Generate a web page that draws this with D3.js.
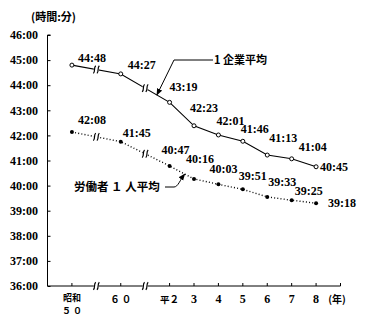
<!DOCTYPE html>
<html>
<head>
<meta charset="utf-8">
<script src="https://cdn.jsdelivr.net/npm/d3@7"></script>
<style>
  html, body { margin: 0; padding: 0; background: #fff; }
  svg { display: block; }
  .num { font-family: "Liberation Serif", "DejaVu Serif", serif; font-weight: bold; font-size: 12px; fill: #000; }
  .jp { font-family: "Noto Sans CJK JP", sans-serif; font-weight: bold; fill: #000; }
</style>
</head>
<body>
<svg id="chart" width="371" height="323"></svg>
<script>
// Years shown on the horizontal axis (昭和50, 60, then 平成2–8)
const years = ["昭和50", "60", "平2", "3", "4", "5", "6", "7", "8"];
// Average weekly working hours per enterprise (時間:分)
const perEnterprise = ["44:48", "44:27", "43:19", "42:23", "42:01", "41:46", "41:13", "41:04", "40:45"];
// Average weekly working hours per worker (時間:分)
const perWorker = ["42:08", "41:45", "40:47", "40:16", "40:03", "39:51", "39:33", "39:25", "39:18"];
// Vertical axis ticks, in hours
const yTicks = [36, 37, 38, 39, 40, 41, 42, 43, 44, 45, 46];
// Series names
const seriesNames = ["1 企業平均", "労働者 １ 人平均"];

const toHours = s => { const [h, m] = s.split(":").map(Number); return h + m / 60; };

// Axis slots: the year categories, with a break slot between 50–60 and 60–平2
const slots = ["_start", years[0], "_b1", years[1], "_b2", ...years.slice(2), "_end"];

const svg = d3.select("#chart");
const x = d3.scalePoint().domain(slots).range([47.5, 340.5]);
const y = d3.scaleLinear().domain([36, 46]).range([286, 35]);

const black = "#000";

// ---- Y axis ----
const yAxis = d3.axisRight(y).tickValues(yTicks).tickSize(3).tickFormat("");
const gy = svg.append("g").attr("transform", `translate(${x("_start")},0)`).call(yAxis);
gy.select(".domain").attr("d", `M3,${y(46)}H0V${y(36)}`).attr("stroke", black);
gy.selectAll(".tick line").attr("stroke", black);

svg.append("g").selectAll("text").data(yTicks).join("text")
  .attr("class", "num")
  .attr("x", 38).attr("y", d => y(d)).attr("dy", "0.35em")
  .attr("text-anchor", "end")
  .text(d => `${d}:00`);

svg.append("text").attr("class", "jp").attr("font-size", 11)
  .attr("x", 31).attr("y", 21).text("(時間:分)");

// ---- X axis ----
const gx = svg.append("g").attr("transform", `translate(0,${y(36)})`);
gx.append("line").attr("x1", x("_start")).attr("x2", x("_end")).attr("stroke", black);
gx.selectAll("line.tk").data([...years, "_end"]).join("line").attr("class", "tk")
  .attr("x1", d => x(d)).attr("x2", d => x(d)).attr("y1", 0).attr("y2", -3).attr("stroke", black);

// Break marks: a short white gap with two wavy strokes
function breakMark(g, cx, cy) {
  g.append("rect").attr("x", cx - 2.5).attr("y", cy - 2).attr("width", 5).attr("height", 4).attr("fill", "#fff");
  [-1.8, 1.8].forEach(o => {
    g.append("path")
      .attr("d", `M${cx + o - 1.2},${cy + 3.8} C${cx + o + 1.2},${cy + 1.5} ${cx + o - 1.2},${cy - 1.5} ${cx + o + 1.2},${cy - 3.8}`)
      .attr("fill", "none").attr("stroke", black).attr("stroke-width", 1.2);
  });
}
["_b1", "_b2"].forEach(b => breakMark(gx, x(b), 0));

// Category labels
const labelY = 302.5;
// 昭和 / ５ ０ stacked in two lines
svg.append("text").attr("class", "jp").attr("font-size", 9)
  .attr("x", x(years[0])).attr("y", labelY - 1.5).attr("text-anchor", "middle").text("昭和");
svg.append("text").attr("class", "jp").attr("font-size", 9)
  .attr("x", x(years[0])).attr("y", labelY + 11.5).attr("text-anchor", "middle").text("５ ０");
[["６ ０", years[1]], ["平２", years[2]]].forEach(([t, k]) => {
  svg.append("text").attr("class", "jp").attr("font-size", 9.5)
    .attr("x", x(k)).attr("y", labelY).attr("text-anchor", "middle").text(t);
});
years.slice(3).forEach(k => {
  svg.append("text").attr("class", "num").attr("font-size", 11)
    .attr("x", x(k)).attr("y", labelY).attr("text-anchor", "middle").text(k);
});
svg.append("text").attr("class", "jp").attr("font-size", 10)
  .attr("x", 337).attr("y", labelY).attr("text-anchor", "middle").text("(年)");

// ---- Series ----
const upper = years.map((k, i) => ({ k, v: toHours(perEnterprise[i]), t: perEnterprise[i] }));
const lower = years.map((k, i) => ({ k, v: toHours(perWorker[i]), t: perWorker[i] }));
const line = d3.line().x(d => x(d.k)).y(d => y(d.v));

svg.append("path").datum(upper).attr("d", line)
  .attr("fill", "none").attr("stroke", black).attr("stroke-width", 1.1);
svg.append("path").datum(lower).attr("d", line)
  .attr("fill", "none").attr("stroke", black).attr("stroke-width", 1.4)
  .attr("stroke-dasharray", "1,2.2");

// Break marks on each line, halfway between the neighbouring points
[upper, lower].forEach(s => {
  [[0, 1, "_b1"], [1, 2, "_b2"]].forEach(([a, b, slot]) => {
    const yy = (y(s[a].v) + y(s[b].v)) / 2;
    breakMark(svg, x(slot), yy);
  });
});

svg.append("g").selectAll("circle").data(upper).join("circle")
  .attr("cx", d => x(d.k)).attr("cy", d => y(d.v)).attr("r", 2)
  .attr("fill", "#fff").attr("stroke", black).attr("stroke-width", 1);
svg.append("g").selectAll("circle").data(lower).join("circle")
  .attr("cx", d => x(d.k)).attr("cy", d => y(d.v)).attr("r", 2)
  .attr("fill", black);

// Value labels, offset from each point
const upperOff = [[6, -7], [7, -9], [0, -16], [-4, -18], [-2, -14], [-2, -12], [2, -17], [7, -12], [4, 0]];
const lowerOff = [[6, -12], [2, -9], [-8, -16], [-8, -20], [-9, -16], [-4, -14], [1, -15], [3, -9], [12, 0]];
[[upper, upperOff], [lower, lowerOff]].forEach(([s, off]) => {
  svg.append("g").selectAll("text").data(s).join("text")
    .attr("class", "num")
    .attr("x", (d, i) => x(d.k) + off[i][0])
    .attr("y", (d, i) => y(d.v) + off[i][1])
    .attr("dy", "0.35em")
    .text(d => d.t);
});

// ---- Series name callouts with arrows ----
svg.append("defs").append("marker")
  .attr("id", "arrow").attr("viewBox", "0 0 10 10").attr("refX", 9).attr("refY", 5)
  .attr("markerWidth", 7).attr("markerHeight", 7).attr("orient", "auto-start-reverse")
  .attr("markerUnits", "userSpaceOnUse")
  .append("path").attr("d", "M0,1 L10,5 L0,9 Z").attr("fill", black);

const lerp = (s, a, b, t) => [x(s[a].k) + (x(s[b].k) - x(s[a].k)) * t, y(s[a].v) + (y(s[b].v) - y(s[a].v)) * t];

const tip1 = lerp(upper, 1, 2, 0.74);
svg.append("path")
  .attr("d", `M213,60 H174 L${tip1[0]},${tip1[1]}`)
  .attr("fill", "none").attr("stroke", black).attr("stroke-width", 1)
  .attr("marker-end", "url(#arrow)");
svg.append("text").attr("class", "jp").attr("font-size", 11)
  .attr("x", 214).attr("y", 60).attr("dy", "0.35em").text(seriesNames[0]);

const tip2 = lerp(lower, 2, 3, 0.62);
svg.append("path")
  .attr("d", `M165,187 H174 C178,187 180,180 ${tip2[0]},${tip2[1]}`)
  .attr("fill", "none").attr("stroke", black).attr("stroke-width", 1)
  .attr("marker-end", "url(#arrow)");
svg.append("text").attr("class", "jp").attr("font-size", 11.5)
  .attr("x", 74).attr("y", 187).attr("dy", "0.35em").text(seriesNames[1]);
</script>
</body>
</html>
